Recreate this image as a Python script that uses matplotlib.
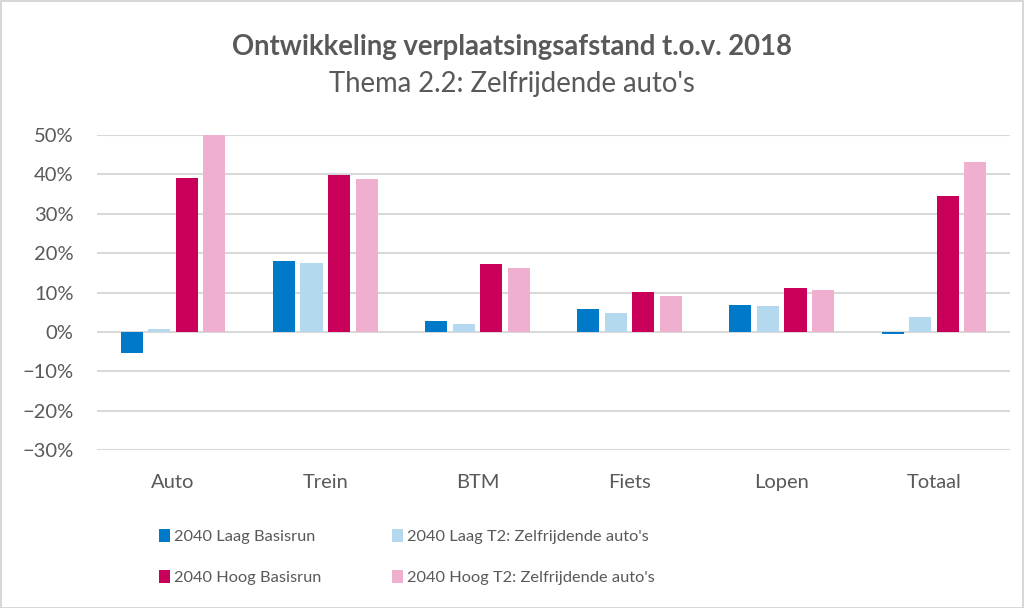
import matplotlib
matplotlib.use("Agg")
import matplotlib.pyplot as plt
import numpy as np
from matplotlib.patches import Rectangle, Patch
from matplotlib.ticker import PercentFormatter

categories = ["Auto", "Trein", "BTM", "Fiets", "Lopen", "Totaal"]
series_names = ["2040 Laag Basisrun", "2040 Laag T2: Zelfrijdende auto's",
                "2040 Hoog Basisrun", "2040 Hoog T2: Zelfrijdende auto's"]
laag_basis = [-5.4, 18.0, 2.7, 5.8, 6.8, -0.5]
laag_t2 = [0.8, 17.4, 2.0, 4.7, 6.5, 3.7]
hoog_basis = [39.0, 39.8, 17.3, 10.1, 11.1, 34.6]
hoog_t2 = [50.0, 38.8, 16.2, 9.0, 10.6, 43.2]
colors = ["#0079C8", "#B4D8EE", "#C8005A", "#EEB0CE"]
yticks = [-30, -20, -10, 0, 10, 20, 30, 40, 50]

plt.rcParams['font.family'] = ['Lato', 'DejaVu Sans']
fig = plt.figure(figsize=(10.24, 6.08), dpi=100)
ax = fig.add_axes([97/1024, 1-450/608, (1010-97)/1024, (450-135)/608])

x = np.arange(len(categories))
w = 0.145
step = 0.181
data = [laag_basis, laag_t2, hoog_basis, hoog_t2]
for i, (vals, c, name) in enumerate(zip(data, colors, series_names)):
    ax.bar(x + (i - 1.5) * step, vals, w, color=c, label=name, zorder=3)

ax.set_xlim(-0.5, len(categories) - 0.5)
ax.set_ylim(-30, 50)
ax.set_yticks(yticks)
ax.yaxis.set_major_formatter(PercentFormatter(decimals=0))
ax.set_xticks(x)
ax.set_xticklabels(categories)
ax.grid(axis='y', color='#D9D9D9', linewidth=1.5, zorder=0)
ax.set_axisbelow(True)
for s in ax.spines.values():
    s.set_visible(False)
ax.tick_params(axis='both', length=0, labelsize=14.5, colors='#595959')
ax.tick_params(axis='y', pad=17)
ax.tick_params(axis='x', pad=17.5)

fig.text(0.5, 1-47/608, "Ontwikkeling verplaatsingsafstand t.o.v. 2018",
         ha='center', va='center', fontsize=19.8, fontweight='bold', color='#595959')
fig.text(0.5, 1-84/608, "Thema 2.2: Zelfrijdende auto's",
         ha='center', va='center', fontsize=19.8, color='#595959')

handles = [Patch(facecolor=c, label=n) for c, n in zip(colors, series_names)]
leg_kw = dict(loc='center left', frameon=False, fontsize=11.8, labelcolor='#595959',
              handlelength=0.65, handleheight=0.9, handletextpad=0.25,
              labelspacing=1.55, borderpad=0, borderaxespad=0)
fig.legend(handles=[handles[0], handles[2]], bbox_to_anchor=(159/1024, 1-557/608), **leg_kw)
fig.legend(handles=[handles[1], handles[3]], bbox_to_anchor=(392/1024, 1-557/608), **leg_kw)

fig.patches.append(Rectangle((0.5/1024, 0.5/608), 1-1.5/1024, 1-1.5/608,
                             transform=fig.transFigure, fill=False,
                             edgecolor='#D0D0D0', linewidth=1.2))
fig.savefig("out.png", dpi=100)
